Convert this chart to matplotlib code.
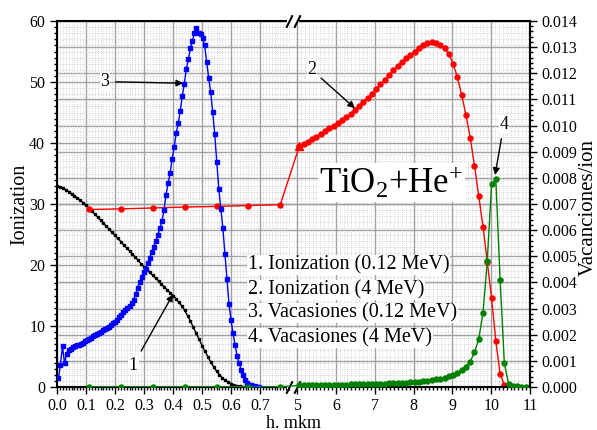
import matplotlib.pyplot as plt
import numpy as np
from matplotlib.ticker import FixedLocator, FixedFormatter, MultipleLocator

plt.rcParams['font.family'] = ['Liberation Serif', 'DejaVu Serif']
plt.rcParams['mathtext.fontset'] = 'custom'
plt.rcParams['mathtext.rm'] = 'Liberation Serif'
plt.rcParams['mathtext.default'] = 'regular'

# 1. Ionization (0.12 MeV), step 0.01 mkm
ion012_depth = np.arange(0, 0.701, 0.01)
ion012 = [32.9, 32.8, 32.6, 32.35, 32.0, 31.7, 31.35, 31.0, 30.65, 30.2,
          29.8, 29.35, 28.85, 28.35, 27.85, 27.35, 26.85, 26.35, 25.85, 25.35,
          24.85, 24.35, 23.85, 23.3, 22.8, 22.3, 21.8, 21.25, 20.75, 20.2,
          19.7, 19.25, 18.8, 18.3, 17.85, 17.4, 16.85, 16.4, 15.9, 15.45,
          15.0, 14.5, 13.9, 13.3, 12.6, 11.7, 10.8, 9.8, 8.8, 7.8,
          6.8, 5.9, 5.0, 4.1, 3.3, 2.6, 2.0, 1.5, 1.1, 0.8,
          0.55, 0.35, 0.2, 0.12, 0.07, 0.04, 0.02, 0.01, 0.0, 0.0,
          0.0]

# 2. Ionization (4 MeV)
ion4_depth = [0.11, 0.22, 0.33, 0.44, 0.55, 0.66, 0.77] + list(np.round(0.11 * np.arange(46, 95), 2))
ion4 = [29.1, 29.2, 29.35, 29.5, 29.6, 29.75, 29.9,
        39.5, 39.9, 40.2, 40.6, 41.0, 41.5, 41.9, 42.4, 42.8, 43.2,
        43.7, 44.2, 44.8, 45.4, 46.1, 46.8, 47.4, 48.1, 48.9, 49.6,
        50.4, 51.1, 51.9, 52.6, 53.3, 53.9, 54.4, 55.0, 55.6, 56.1,
        56.4, 56.5, 56.4, 56.1, 55.5, 54.6, 53.0, 50.8, 47.9, 44.6,
        40.9, 36.3, 31.3, 26.3, 20.5, 14.6, 7.5, 2.2, 0.26]

# 3. Vacancies (0.12 MeV)
vac012_depth = 0.005 + 0.007 * np.arange(100)
vac012 = [0.00033, 0.00086, 0.00156, 0.00091, 0.00126, 0.00142, 0.00147, 0.00152, 0.00156, 0.00159,
          0.00161, 0.00166, 0.0017, 0.00175, 0.0018, 0.00184, 0.00189, 0.00194, 0.00198, 0.00203,
          0.00208, 0.00212, 0.00217, 0.00222, 0.00226, 0.00231, 0.00236, 0.00243, 0.0025, 0.00257,
          0.00266, 0.00275, 0.00285, 0.00294, 0.00303, 0.0031, 0.0032, 0.00334, 0.00355, 0.0038,
          0.00401, 0.0042, 0.00439, 0.00453, 0.00474, 0.00495, 0.00518, 0.00537, 0.0056, 0.00583,
          0.00607, 0.00635, 0.00677, 0.00735, 0.00779, 0.00817, 0.00873, 0.00917, 0.00971, 0.01008,
          0.01055, 0.01113, 0.0116, 0.01218, 0.01253, 0.01295, 0.01325, 0.01353, 0.01374, 0.01356,
          0.01351, 0.01335, 0.01307, 0.01244, 0.01183, 0.01127, 0.0105, 0.00966, 0.00859, 0.00758,
          0.00681, 0.00607, 0.00509, 0.00415, 0.00317, 0.00257, 0.00205, 0.00161, 0.00119, 0.00091,
          0.00065, 0.00044, 0.00028, 0.00016, 0.00009, 0.00006, 0.00004, 0.00002, 0.00001, 0.00001]

# 4. Vacancies (4 MeV)
vac4_depth = [0.11, 0.22, 0.33, 0.44, 0.55, 0.66, 0.77] + list(np.round(0.11 * np.arange(46, 101), 2))
vac4 = [0.00001, 0.00001, 0.00001, 0.00001, 0.00001, 0.00001, 0.00001,
        0.00006, 0.00006, 0.00006, 0.00007, 0.00007, 0.00007, 0.00008, 0.00008, 0.00008, 0.00009,
        0.00009, 0.00009, 0.0001, 0.0001, 0.0001, 0.00011, 0.00011, 0.00012, 0.00012, 0.00013,
        0.00013, 0.00014, 0.00015, 0.00015, 0.00016, 0.00017, 0.00018, 0.00019, 0.0002, 0.00022,
        0.00024, 0.00026, 0.00029, 0.00032, 0.00036, 0.00041, 0.00047, 0.00055, 0.00066, 0.00078,
        0.00097, 0.00132, 0.00184, 0.00284, 0.00483, 0.00775, 0.00794, 0.00411, 0.0009, 0.0001,
        0.00003, 0.00002, 0.00001, 0.00001, 0.00001]

legend_lines = ['1. Ionization (0.12 MeV)', '2. Ionization (4 MeV)',
                '3. Vacasiones (0.12 MeV)', '4. Vacasiones (4 MeV)']

x_major = [0.0, 0.1, 0.2, 0.3, 0.4, 0.5, 0.6, 0.7, 5, 6, 7, 8, 9, 10, 11]
x_labels = ['0.0', '0.1', '0.2', '0.3', '0.4', '0.5', '0.6', '0.7',
            '5', '6', '7', '8', '9', '10', '11']


# broken x axis: 0..0.8 and 5..11 on one axis
def fwd(x):
    x = np.asarray(x, float)
    return np.where(x <= 0.8, x * 290,
                    np.where(x >= 5, 240 + (x - 5) * 38.83, 232 + (x - 0.8) * 8 / 4.2))


def inv(u):
    u = np.asarray(u, float)
    return np.where(u <= 232, u / 290,
                    np.where(u >= 240, 5 + (u - 240) / 38.83, 0.8 + (u - 232) * 4.2 / 8))


fig = plt.figure(figsize=(5.97, 4.30), dpi=100)
ax = fig.add_axes([57 / 597, 43 / 430, 473 / 597, 366 / 430])
ax.set_xscale('function', functions=(fwd, inv))
ax.set_xlim(0, 11)
ax.set_ylim(0, 60)
ax.xaxis.set_major_locator(FixedLocator(x_major))
ax.xaxis.set_major_formatter(FixedFormatter(x_labels))
ax.xaxis.set_minor_locator(FixedLocator(list(np.arange(0, 0.805, 0.01)) + list(np.arange(5, 11.01, 0.1))))
ax.yaxis.set_major_locator(MultipleLocator(10))
ax.yaxis.set_minor_locator(MultipleLocator(1))

ax2 = ax.twinx()
ax2.set_ylim(0, 0.014)
ax2.yaxis.set_major_locator(MultipleLocator(0.001))
ax2.yaxis.set_minor_locator(MultipleLocator(0.0002))
ax2.yaxis.set_major_formatter(plt.FormatStrFormatter('%.3f'))

# grid
ax.grid(True, which='major', color='#a0a0a0', lw=1)
ax.grid(True, which='minor', color='#c8c8c8', ls=':', lw=0.6)
for t in ax2.get_yticks():
    ax.axhline(t * 60 / 0.014, color='#a0a0a0', lw=1, zorder=0.5)

ax.plot(ion012_depth, ion012, color='k', lw=1, marker='s', ms=1.8)
ax.plot(ion4_depth, ion4, color='#ff0000', lw=1, marker='o', ms=3.6)
ax.plot(ion4_depth[7], ion4[7], color='#ff0000', marker='^', ms=6)
ax2.plot(vac012_depth, vac012, color='#0000ff', lw=1, marker='s', ms=3.4)
ax2.plot(vac4_depth, vac4, color='#008000', lw=1, marker='o', ms=3.6)

for s in ax.spines.values():
    s.set_linewidth(1.5)
for side in ('top', 'bottom', 'left'):
    ax2.spines[side].set_visible(False)
ax2.spines['right'].set_linewidth(1.5)

ax.tick_params(which='both', direction='out', top=False, right=False, labelsize=11.5, width=1)
ax.tick_params(which='major', length=5)
ax.tick_params(which='minor', length=2.5)
ax.tick_params(axis='x', pad=3)
ax2.tick_params(which='both', direction='out', labelsize=11.5, width=1)
ax2.tick_params(which='major', length=5)
ax2.tick_params(which='minor', length=2.5)

# break marks
trans = ax.get_xaxis_transform()
for yb in (0, 1):
    ax.plot([0.81, 4.98], [yb, yb], color='white', lw=3, transform=trans, clip_on=False, zorder=5)
    for xb in (0.8, 5.0):
        ax.plot([xb], [yb], transform=trans, ls='none', marker=[(-1, -2), (1, 2)],
                ms=9, mew=1.5, color='k', clip_on=False, zorder=6)

fig.text(20 / 597, 1 - 204 / 430, 'Ionization', rotation=90, fontsize=14.5, ha='center', va='center')
fig.text(588 / 597, 1 - 207 / 430, 'Vacanciones/ion', rotation=90, fontsize=15, ha='center', va='center')
fig.text(294 / 597, 1 - 423 / 430, 'h. mkm', fontsize=13, ha='center', va='center')

arrow = dict(arrowstyle='-|>', color='k', lw=1, mutation_scale=10, shrinkA=4, shrinkB=0)
box = dict(fc='white', ec='none', pad=0.5)
ax.annotate('1', xy=(0.40, 15.2), xytext=(0.263, 3.6), ha='center', va='center',
            fontsize=13, bbox=box, arrowprops=arrow)
ax.annotate('2', xy=(6.49, 45.7), xytext=(5.38, 52.0), ha='center', va='center',
            fontsize=13, bbox=box, arrowprops=arrow)
ax2.annotate('3', xy=(0.435, 0.01162), xytext=(0.165, 0.01168), ha='center', va='center',
             fontsize=13, bbox=box, arrowprops=arrow)
ax2.annotate('4', xy=(10.10, 0.00811), xytext=(10.33, 0.01006), ha='center', va='center',
             fontsize=13, bbox=box, arrowprops=arrow)

for txt, yy in zip(legend_lines, [0.333, 0.265, 0.202, 0.134]):
    ax2.text(0.404, yy, txt, transform=ax2.transAxes, fontsize=14.5, ha='left', va='center',
             bbox=dict(fc='white', ec='none', pad=0.5))

ax2.text(0.554, 0.530, 'TiO$_2$+He$^{+}$', transform=ax2.transAxes, fontsize=25,
         ha='left', va='baseline', bbox=dict(fc='white', ec='none', pad=1))

fig.savefig('out.png', dpi=100)
